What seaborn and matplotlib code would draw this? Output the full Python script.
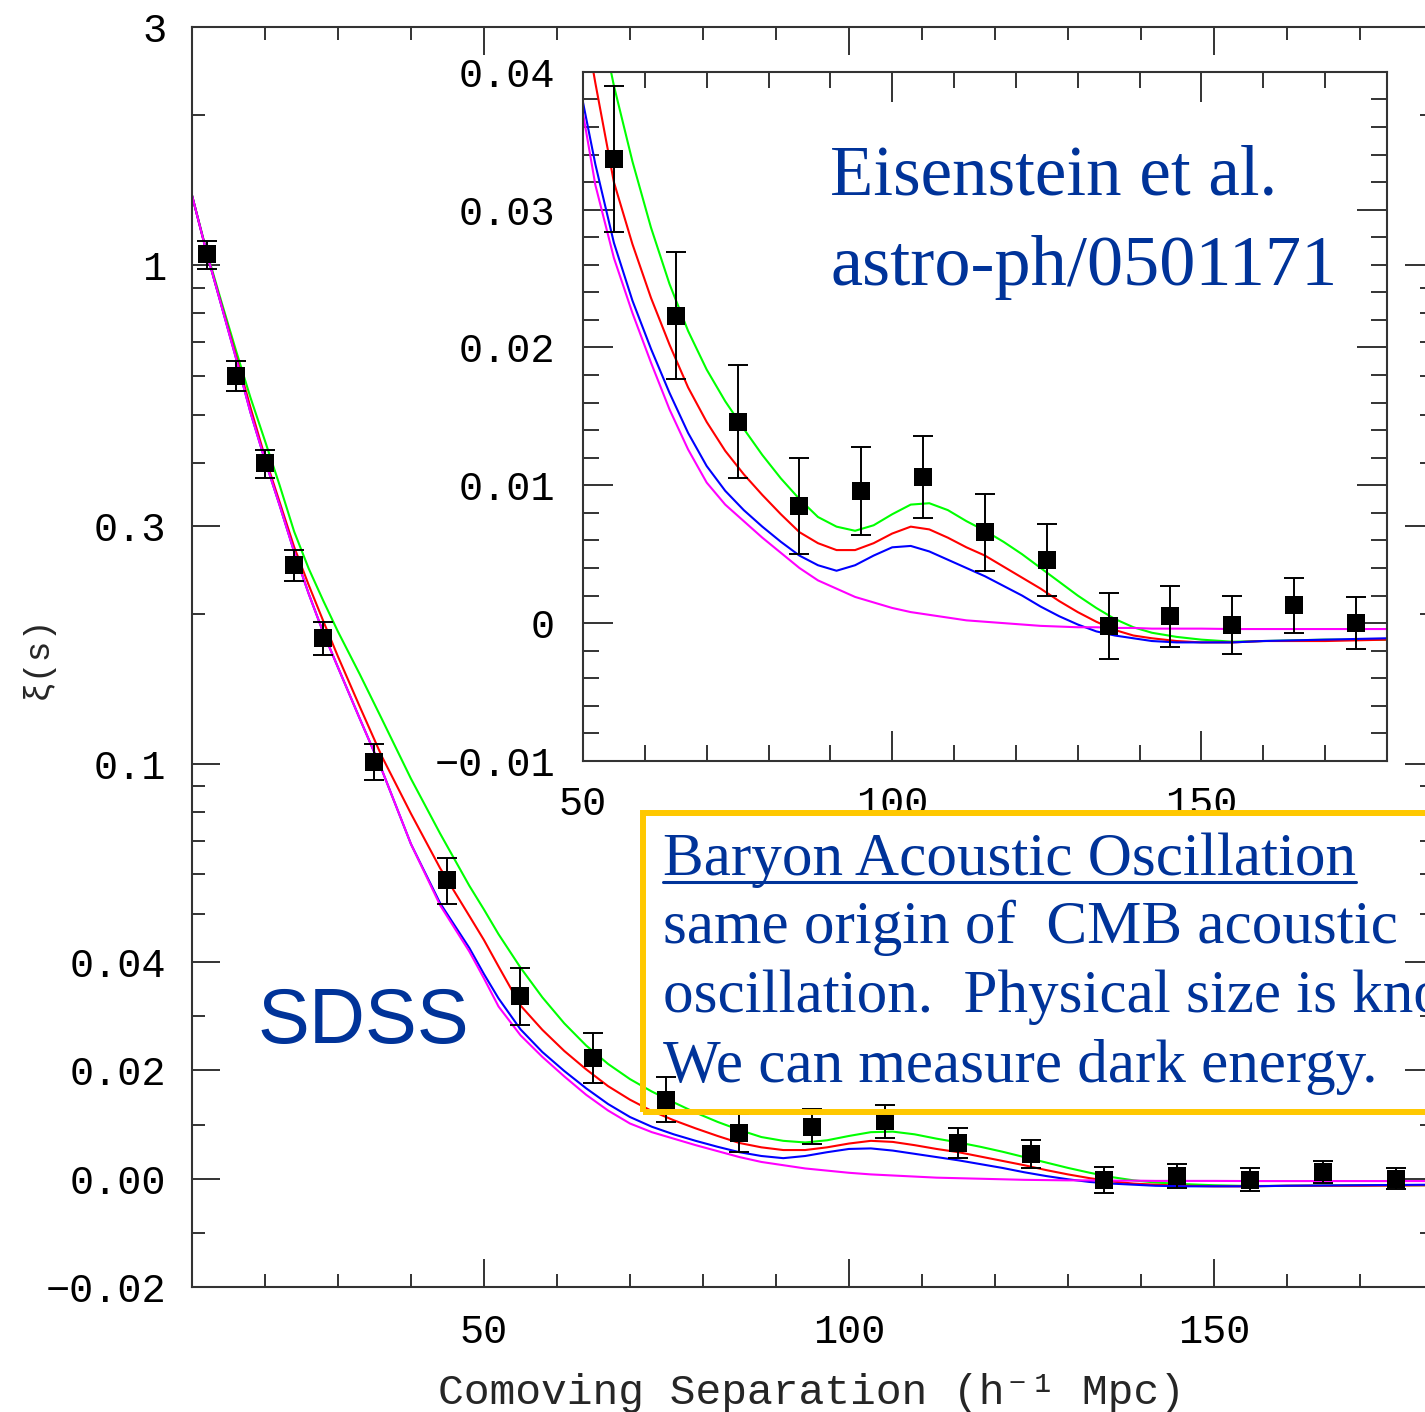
import numpy as np
import pandas as pd
import matplotlib
matplotlib.use("Agg")
import matplotlib.pyplot as plt
from matplotlib.patches import Rectangle
from matplotlib.lines import Line2D
import seaborn as sns

# =========================================================
# DATA
# =========================================================
sep_data = [12, 16, 20, 24, 28, 35, 45, 55, 65, 75, 85, 95, 105, 115, 125,
            135, 145, 155, 165, 175]
xi_data = [1.05, 0.60, 0.40, 0.25, 0.179, 0.101, 0.0585, 0.0337, 0.0223, 0.0146,
           0.0085, 0.0096, 0.0106, 0.0066, 0.0046, -0.0002, 0.0005, -0.00015,
           0.0013, 0.0000]
xi_err = [0.067, 0.042, 0.026, 0.018, 0.0135, 0.0083, 0.0063, 0.0053, 0.0046,
          0.0041, 0.0035, 0.0032, 0.0030, 0.0028, 0.0026, 0.0024, 0.0022,
          0.0021, 0.0020, 0.0019]

sep_model = [10, 12, 14, 16, 18, 20, 22, 24, 26, 28, 30, 33, 36, 40, 44, 48,
             50, 52, 55, 58, 61, 64, 67, 70, 73, 76, 79, 82, 85, 88, 91, 94,
             97, 100, 103, 106, 109, 112, 115, 118, 121, 124, 127, 130, 133,
             136, 139, 142, 146, 150, 155, 160, 170, 180]
xi_green = [1.38, 1.067, 0.847, 0.676, 0.543, 0.444, 0.362, 0.292, 0.246, 0.212,
            0.184, 0.151, 0.123, 0.0933, 0.0724, 0.0569, 0.0510, 0.0455,
            0.0390, 0.0335, 0.0287, 0.0246, 0.0212, 0.0184, 0.0161, 0.0141,
            0.0122, 0.0105, 0.0090, 0.0077, 0.0070, 0.0067, 0.0071, 0.0079,
            0.0086, 0.0087, 0.0082, 0.0074, 0.0067, 0.0059, 0.0050, 0.0040,
            0.0030, 0.0020, 0.0011, 0.0003, -0.0003, -0.0007, -0.0010, -0.0012,
            -0.00135, -0.0013, -0.0012, -0.0012]
xi_red = [1.38, 1.06, 0.836, 0.661, 0.519, 0.412, 0.335, 0.272, 0.228, 0.193,
          0.164, 0.130, 0.1035, 0.0794, 0.0617, 0.0495, 0.0443, 0.0392,
          0.0320, 0.0275, 0.0236, 0.0202, 0.0171, 0.0146, 0.0125, 0.0108,
          0.0093, 0.0079, 0.0066, 0.0058, 0.0053, 0.0053, 0.0058, 0.0065,
          0.0070, 0.0068, 0.0062, 0.0055, 0.0049, 0.0041, 0.0033, 0.0025,
          0.0016, 0.0008, 0.0001, -0.0005, -0.0009, -0.0011, -0.0013, -0.0014,
          -0.0014, -0.0013, -0.0013, -0.0012]
xi_blue = [1.38, 1.06, 0.832, 0.653, 0.507, 0.406, 0.330, 0.266, 0.219, 0.183,
           0.156, 0.123, 0.0973, 0.0690, 0.0525, 0.0427, 0.0378, 0.0333,
           0.0276, 0.0234, 0.0199, 0.0167, 0.0138, 0.0114, 0.0096, 0.0082,
           0.0070, 0.0059, 0.0049, 0.0042, 0.0038, 0.0042, 0.0049, 0.0055,
           0.0056, 0.0052, 0.0046, 0.0040, 0.0034, 0.0027, 0.0020, 0.0012,
           0.0005, -0.0001, -0.0006, -0.0009, -0.0011, -0.0013, -0.0014,
           -0.0014, -0.0014, -0.0013, -0.0012, -0.0011]
xi_magenta = [1.38, 1.06, 0.832, 0.653, 0.507, 0.406, 0.330, 0.266, 0.219,
              0.183, 0.156, 0.123, 0.0973, 0.0690, 0.0520, 0.0420, 0.0370,
              0.0318, 0.0265, 0.0225, 0.0189, 0.0155, 0.0126, 0.0102, 0.0086,
              0.0074, 0.0062, 0.0051, 0.0040, 0.0031, 0.0025, 0.0019, 0.0015,
              0.0011, 0.0008, 0.0006, 0.0004, 0.0002, 0.0001, 0.0000, -0.0001,
              -0.0002, -0.00025, -0.0003, -0.0003, -0.00035, -0.00035, -0.0004,
              -0.0004, -0.0004, -0.00043, -0.00043, -0.00043, -0.00043]

model_names = ["green", "red", "blue", "magenta"]
model_colors = {"green": "#00ff00", "red": "#ff0000",
                "blue": "#0000ff", "magenta": "#ff00ff"}

main_yticks = [-0.02, 0.0, 0.02, 0.04, 0.1, 0.3, 1, 3]
main_ylabels = ["\u22120.02", "0.00", "0.02", "0.04", "0.1", "0.3", "1", "3"]
main_yminor = [-0.01, 0.01, 0.03, 0.05, 0.06, 0.07, 0.08, 0.09, 0.2,
               0.4, 0.5, 0.6, 0.7, 0.8, 0.9, 2]
inset_yticks = [-0.01, 0.0, 0.01, 0.02, 0.03, 0.04]
inset_ylabels = ["\u22120.01", "0", "0.01", "0.02", "0.03", "0.04"]

curves = pd.DataFrame({
    "sep": sep_model * 4,
    "xi": xi_green + xi_red + xi_blue + xi_magenta,
    "model": sum([[m] * len(sep_model) for m in model_names], []),
})

# =========================================================
# STYLE
# =========================================================
sns.set_style("ticks")
plt.rcParams["font.family"] = ["Liberation Mono", "DejaVu Sans Mono", "DejaVu Sans"]
plt.rcParams["axes.edgecolor"] = "#333333"
plt.rcParams["axes.linewidth"] = 1.5
plt.rcParams["xtick.color"] = "#333333"
plt.rcParams["ytick.color"] = "#333333"
plt.rcParams["xtick.labelcolor"] = "black"
plt.rcParams["ytick.labelcolor"] = "black"

BLUE_TXT = "#003399"
XI_BREAK = 0.04


# log above 0.04, linear below (slopes match at the break)
def xi_forward(y):
    y = np.asarray(y, dtype=float)
    big = y > XI_BREAK
    return np.where(big, 1.0 + np.log(np.where(big, y, XI_BREAK) / XI_BREAK),
                    y / XI_BREAK)


def xi_inverse(u):
    u = np.asarray(u, dtype=float)
    return np.where(u > 1.0, XI_BREAK * np.exp(np.minimum(u, 50.0) - 1.0),
                    XI_BREAK * u)


def draw_panel(ax):
    sns.lineplot(data=curves, x="sep", y="xi", hue="model",
                 hue_order=model_names, palette=model_colors,
                 estimator=None, sort=False, linewidth=1.5, legend=False, ax=ax)
    ax.errorbar(sep_data, xi_data, yerr=xi_err, fmt="none", ecolor="black",
                elinewidth=1.4, capsize=7.5, capthick=1.4, zorder=3)
    sns.scatterplot(x=sep_data, y=xi_data, marker="s", s=150, color="black",
                    edgecolor="black", linewidth=0, ax=ax, zorder=4)
    ax.set_xlabel("")
    ax.set_ylabel("")


fig = plt.figure(figsize=(14.25, 14.12), dpi=100)

# ---------------- main panel ----------------
ax = fig.add_axes([0.1347, 0.0885, 0.8709, 0.8924])
draw_panel(ax)
ax.set_yscale("function", functions=(xi_forward, xi_inverse))
ax.set_xlim(10, 180)
ax.set_ylim(-0.02, 3)
ax.set_xticks([50, 100, 150])
ax.set_xticks([20, 30, 40, 60, 70, 80, 90, 110, 120, 130, 140, 160, 170], minor=True)
ax.set_yticks(main_yticks, main_ylabels)
ax.set_yticks(main_yminor, minor=True)
ax.tick_params(which="both", direction="in", top=True, right=True, width=1.4)
ax.tick_params(which="major", length=20, labelsize=29, pad=18.5)
ax.tick_params(which="minor", length=9.5)
ax.set_xlabel("Comoving Separation (h\u207b\u00b9 Mpc)", fontsize=31)
ax.xaxis.set_label_coords(0.4988, -0.068)
ax.set_ylabel("\u03be(s)", fontsize=25, va="center")
ax.yaxis.set_label_coords(-0.125, 0.5)

# ---------------- inset ----------------
axin = fig.add_axes([0.4091, 0.4611, 0.5642, 0.4880])
axin.set_facecolor("white")
draw_panel(axin)
axin.set_xlim(50, 180)
axin.set_ylim(-0.01, 0.04)
axin.set_xticks([50, 100, 150])
axin.set_xticks([60, 70, 80, 90, 110, 120, 130, 140, 160, 170], minor=True)
axin.set_yticks(inset_yticks, inset_ylabels)
axin.set_yticks(np.arange(-0.01, 0.0401, 0.002), minor=True)
axin.tick_params(which="both", direction="in", top=True, right=True, width=1.4)
axin.tick_params(axis="y", which="major", length=21.5, labelsize=29, pad=20)
axin.tick_params(axis="x", which="major", length=21.5, labelsize=29, pad=17)
axin.tick_params(which="minor", length=11.5)

# ---------------- annotations ----------------
fig.text(0.181, 0.2613, "SDSS", color=BLUE_TXT, fontsize=56,
         family=["Liberation Sans", "DejaVu Sans"], va="baseline")

fig.text(0.5825, 0.8619, "Eisenstein et al.", color=BLUE_TXT, fontsize=51,
         family=["Liberation Serif", "DejaVu Serif"], va="baseline")
fig.text(0.5825, 0.7982, "astro-ph/0501171", color=BLUE_TXT, fontsize=52,
         family=["Liberation Serif", "DejaVu Serif"], va="baseline")

box = Rectangle((0.4512, 0.2125), 0.62, 0.2118, transform=fig.transFigure,
                fill=False, edgecolor="#ffc800", linewidth=4.3, zorder=10)
fig.add_artist(box)

box_lines = ["Baryon Acoustic Oscillation",
             "same origin of  CMB acoustic",
             "oscillation.  Physical size is known.",
             "We can measure dark energy."]
box_base = [0.3803, 0.3322, 0.2833, 0.2337]
serif = ["Liberation Serif", "DejaVu Serif"]
head = None
for line, yb in zip(box_lines, box_base):
    t = fig.text(0.4653, yb, line, color=BLUE_TXT, fontsize=44, family=serif,
                 va="baseline", zorder=11)
    if head is None:
        head = t

# underline of the heading
fig.canvas.draw()
bb = head.get_window_extent(fig.canvas.get_renderer())
W, H = fig.canvas.get_width_height()
fig.add_artist(Line2D([bb.x0 / W, bb.x1 / W], [0.3754, 0.3754],
                      transform=fig.transFigure, color=BLUE_TXT,
                      linewidth=2.2, zorder=11))

fig.savefig("out.png", dpi=100)
